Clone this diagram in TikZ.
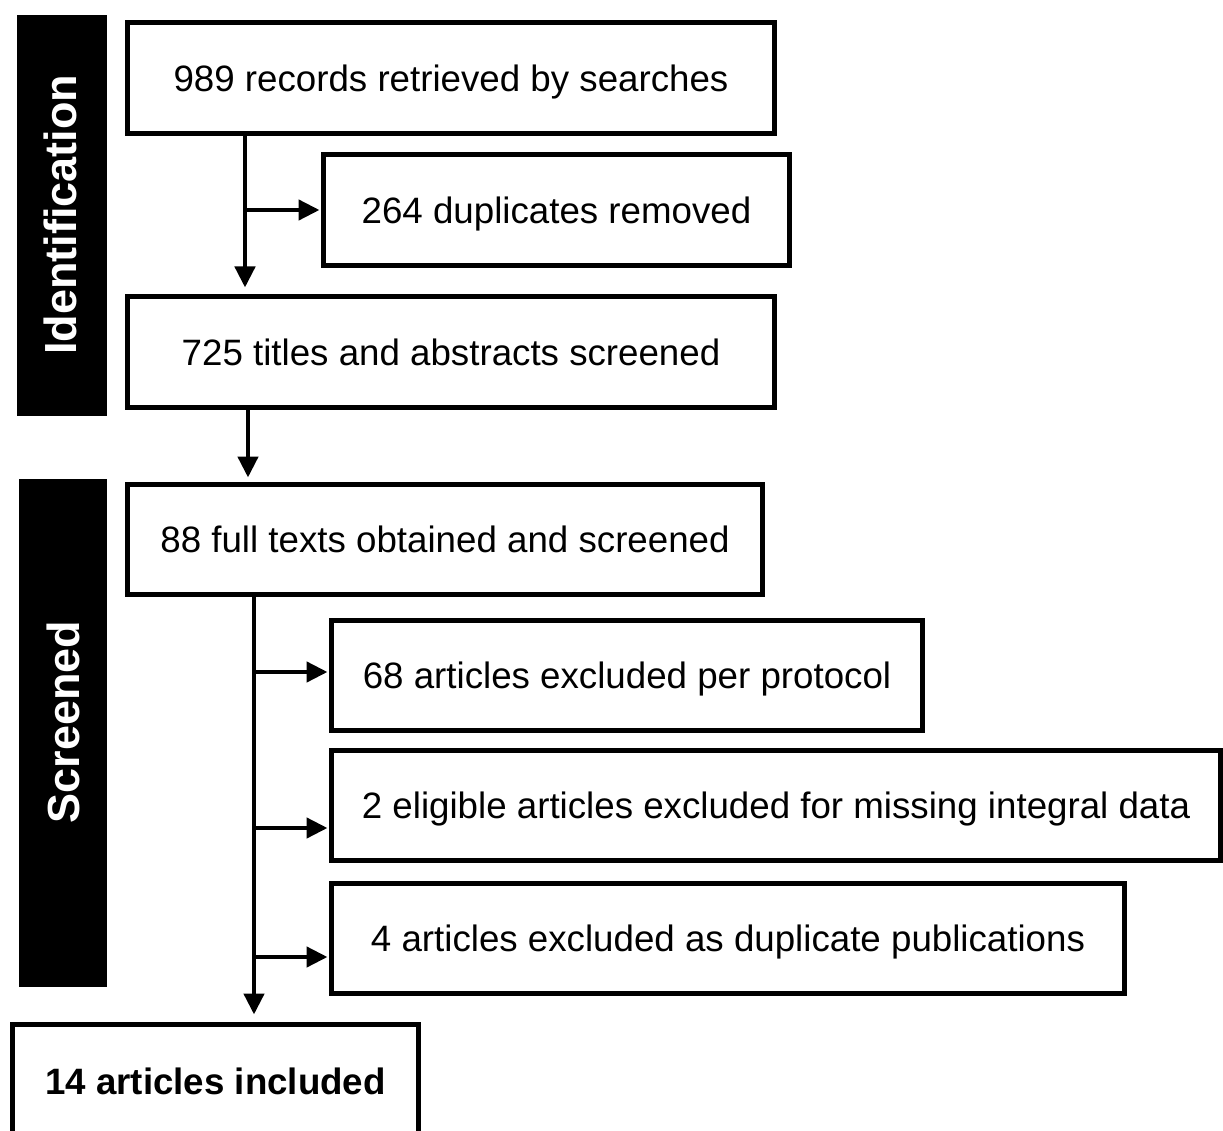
\documentclass[tikz,border=0pt]{standalone}
\usepackage{fontspec}
\setmainfont{Liberation Sans}
\usetikzlibrary{arrows.meta}

\begin{document}
\begin{tikzpicture}[x=1pt,y=-1pt,
        caixa/.style={draw,line width=5pt,inner sep=0pt,outer sep=0pt,text depth=0pt,font=\fontsize{36.7}{44}\selectfont},
        faixa/.style={fill=black,inner sep=0pt,outer sep=0pt},
        rotulo/.style={text=white,rotate=90,inner sep=0pt,font=\fontsize{45}{54}\selectfont\bfseries},
        seta/.style={line width=4.5pt,-{Triangle[width=20pt,length=21pt]}}]
        \useasboundingbox (0,0) rectangle (1223,1131);

        % faixas laterais
        \node[faixa,minimum width=90pt,minimum height=401pt] (barid) at (62,215.5) {};
        \node[rotulo] (txtid) at (60,215) {Identification};
        \node[faixa,minimum width=88pt,minimum height=508pt] (barscr) at (63,733) {};
        \node[rotulo] (txtscr) at (63.5,722) {Screened};

        % caixas
        \node[caixa,minimum width=647pt,minimum height=111pt] (rec) at (451,78) {989 records retrieved by searches};
        \node[caixa,minimum width=466pt,minimum height=111pt] (dup) at (556.5,210) {264 duplicates removed};
        \node[caixa,minimum width=647pt,minimum height=111pt] (tit) at (451,352) {725 titles and abstracts screened};
        \node[caixa,minimum width=635pt,minimum height=110pt] (full) at (445,539.5) {88 full texts obtained and screened};
        \node[caixa,minimum width=591pt,minimum height=110pt] (exca) at (627,675.5) {68 articles excluded per protocol};
        \node[caixa,minimum width=889pt,minimum height=110pt] (excb) at (776,805.5) {2 eligible articles excluded for missing integral data};
        \node[caixa,minimum width=793pt,minimum height=110pt] (excc) at (728,938.5) {4 articles excluded as duplicate publications};
        \node[caixa,minimum width=406pt,minimum height=113pt] (incl) at (215.5,1081) {\bfseries 14 articles included};

        % setas
        \coordinate (ja) at (245,210);
        \draw[seta,shorten >=9pt] (ja |- rec.south) -- (ja |- tit.north);
        \draw[seta,shorten >=4pt] (ja) -- (dup.west);

        \coordinate (jb) at (248,420);
        \draw[seta,shorten >=7pt] (jb |- tit.south) -- (jb |- full.north);

        \coordinate (jc) at (254,672);
        \coordinate (jd) at (254,828);
        \coordinate (je) at (254,957);
        \draw[seta,shorten >=10pt] (jc |- full.south) -- (jc |- incl.north);
        \draw[seta,shorten >=4pt] (jc) -- (jc -| exca.west);
        \draw[seta,shorten >=4pt] (jd) -- (jd -| excb.west);
        \draw[seta,shorten >=4pt] (je) -- (je -| excc.west);
%        \draw[seta] (jb) -- (full.north);
    \end{tikzpicture}
\end{document}
